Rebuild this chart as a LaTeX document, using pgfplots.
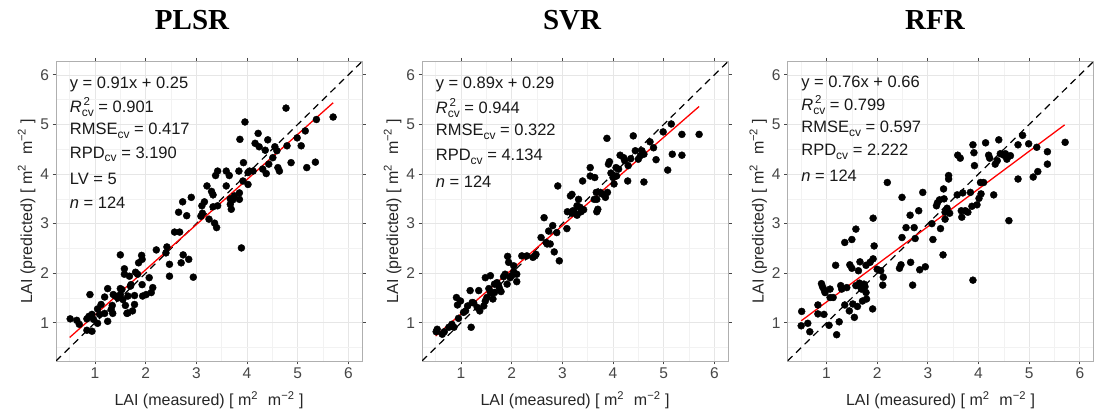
\documentclass[border=0pt]{standalone}
\usepackage{pgfplots}
\pgfplotsset{compat=1.18}
\usepackage{pgfplotstable}
\usepackage{fontspec}
\setmainfont{Liberation Sans}
\newfontfamily\titlefont{Liberation Serif}
\definecolor{gridc}{RGB}{230,230,230}
\definecolor{minorc}{RGB}{242,242,242}
\definecolor{borderc}{RGB}{175,175,175}
\definecolor{tickc}{RGB}{70,70,70}

\pgfplotstableread{
x y
0.51 1.08
0.64 1.05
0.69 0.97
0.84 1.08
0.84 0.85
0.94 0.83
0.90 1.57
0.94 1.17
1.05 1.28
1.05 0.99
0.97 1.07
1.19 1.52
1.19 1.19
1.25 1.69
1.25 1.03
1.12 1.37
1.35 1.19
1.36 1.57
1.34 1.35
1.40 1.54
1.50 2.37
1.50 1.69
1.50 1.57
1.55 1.47
1.58 2.09
1.58 1.98
1.60 1.35
1.63 1.19
1.65 1.54
1.68 1.94
1.71 1.77
1.74 1.24
1.78 1.37
1.78 1.55
1.80 2.02
1.86 2.21
1.92 2.36
1.93 1.77
1.94 1.54
1.93 2.28
2.01 1.57
2.07 1.91
2.11 1.61
2.14 1.71
2.21 2.47
2.42 2.53
2.47 2.18
2.47 1.94
2.57 2.83
2.67 2.83
2.65 3.23
2.73 3.44
2.74 2.37
2.70 2.21
2.81 3.16
2.85 2.28
2.90 3.53
2.94 1.92
3.09 3.15
3.11 3.36
3.16 3.44
3.21 3.76
3.25 3.09
3.30 3.65
3.33 3.34
3.33 3.58
3.36 3.01
3.38 3.97
3.40 2.92
3.42 4.06
3.42 3.36
3.59 4.06
3.59 3.76
3.65 3.97
3.67 3.50
3.67 3.39
3.69 3.29
3.75 3.56
3.84 4.06
3.85 3.62
3.86 4.70
3.89 2.51
3.92 3.86
3.93 4.23
3.96 5.05
4.02 3.79
4.05 4.06
4.12 4.06
4.16 4.62
4.22 4.82
4.24 4.55
4.31 4.10
4.36 4.48
4.38 4.01
4.41 4.69
4.43 4.20
4.51 4.33
4.55 4.55
4.59 4.47
4.61 4.13
4.64 4.06
4.77 5.33
4.79 4.57
4.87 4.23
4.99 4.73
5.07 4.57
5.15 4.87
5.18 4.13
5.35 4.24
5.37 5.10
5.70 5.15
1.45 1.50
1.70 1.74
3.12 3.21
3.72 3.48
1.65 1.20
1.09 1.17
1.32 1.27
0.88 1.13
1.84 1.98
2.40 2.41
4.02 4.03
1.53 1.67
3.85 3.49
}\plsr

\pgfplotstableread{
x y
0.51 0.82
0.53 0.87
0.63 0.77
0.67 0.82
0.82 0.97
0.91 1.51
0.93 1.36
0.95 1.09
1.05 1.21
1.13 1.34
1.18 1.65
1.20 0.91
1.25 1.40
1.32 1.31
1.35 1.65
1.37 1.24
1.45 1.34
1.48 1.91
1.51 1.51
1.55 1.69
1.58 1.95
1.61 1.61
1.63 1.48
1.66 1.78
1.71 1.81
1.76 1.69
1.79 1.63
1.84 1.93
1.87 1.98
1.91 1.78
1.92 2.34
1.94 2.22
1.97 1.91
2.04 2.03
2.10 1.98
2.10 1.83
2.20 2.35
2.42 2.32
2.46 2.35
2.58 2.72
2.64 3.12
2.68 2.62
2.73 2.85
2.76 2.59
2.81 2.96
2.84 2.43
2.91 3.76
2.94 2.25
3.09 2.90
3.10 3.24
3.16 3.56
3.19 3.59
3.21 3.26
3.29 3.17
3.32 3.49
3.37 3.24
3.40 3.86
3.42 3.28
3.55 4.13
3.55 3.96
3.64 3.93
3.67 3.63
3.68 3.49
3.68 3.24
3.70 3.29
3.75 3.63
3.85 3.53
3.88 4.72
3.89 3.63
3.91 4.20
3.93 4.25
3.96 4.02
4.02 3.80
4.06 4.13
4.11 4.10
4.14 4.38
4.21 4.33
4.23 4.27
4.29 3.86
4.35 4.31
4.40 4.77
4.44 4.47
4.50 4.30
4.57 4.47
4.61 4.40
4.61 3.84
4.73 4.65
4.85 4.29
4.99 4.85
5.08 4.08
5.15 5.01
5.17 4.40
5.36 4.80
5.36 4.38
5.70 4.80
1.58 1.61
1.74 1.75
2.00 1.95
2.04 2.15
1.48 1.44
1.09 1.24
0.86 0.91
2.70 2.59
3.19 3.21
3.24 3.22
3.29 3.36
3.78 3.60
4.00 3.93
4.30 4.17
4.54 4.37
4.80 4.53
2.48 2.38
1.22 1.41
0.99 1.44
3.63 3.49
4.07 3.96
1.66 1.61
0.76 0.91
2.30 2.35
3.35 3.33
2.89 2.82
}\svr

\pgfplotstableread{
x y
0.50 0.94
0.51 1.23
0.63 0.99
0.67 0.82
0.83 1.36
0.83 1.18
0.90 1.79
0.92 1.73
0.95 1.67
0.95 1.17
1.05 0.95
1.07 1.51
1.13 1.51
1.18 2.16
1.20 0.76
1.25 1.02
1.28 1.75
1.30 1.68
1.36 2.62
1.36 1.36
1.40 1.71
1.45 1.24
1.46 2.17
1.50 2.68
1.50 2.10
1.52 1.38
1.55 1.11
1.58 2.89
1.58 1.75
1.61 1.33
1.63 2.05
1.65 1.80
1.66 2.23
1.67 1.73
1.71 1.44
1.74 1.78
1.76 1.73
1.78 2.16
1.78 1.61
1.79 1.48
1.86 2.22
1.91 1.28
1.92 2.29
1.92 3.11
1.94 2.55
2.00 2.08
2.07 2.05
2.11 1.76
2.12 1.92
2.20 3.83
2.44 2.10
2.47 2.17
2.49 3.53
2.49 2.72
2.57 2.92
2.65 3.17
2.66 2.22
2.70 1.76
2.73 2.92
2.75 2.70
2.82 3.26
2.84 2.07
2.90 3.63
2.95 2.13
3.08 3.00
3.10 2.68
3.17 3.36
3.19 3.42
3.23 3.48
3.25 2.90
3.30 2.37
3.31 3.70
3.32 3.50
3.34 3.09
3.38 3.31
3.41 3.97
3.41 3.90
3.43 3.21
3.58 3.58
3.59 4.38
3.64 4.32
3.66 3.26
3.67 3.13
3.69 3.62
3.74 3.26
3.84 3.63
3.87 3.35
3.89 4.59
3.89 1.86
3.91 4.43
3.92 4.17
3.97 3.38
4.01 3.51
4.04 3.83
4.05 3.60
4.10 3.83
4.14 4.63
4.20 4.38
4.22 4.32
4.30 3.58
4.33 4.20
4.37 4.27
4.40 4.69
4.43 4.41
4.50 4.38
4.56 4.30
4.60 3.06
4.63 4.37
4.78 4.59
4.78 3.90
4.87 4.78
4.99 4.61
5.08 3.94
5.15 4.54
5.17 4.05
5.36 4.45
5.36 4.20
5.71 4.64
1.07 1.68
1.69 1.68
3.34 3.23
3.79 3.23
4.53 4.41
0.97 1.61
}\rfr

\pgfplotsset{lai/.style={
  scale only axis, width=306pt, height=299.5pt,
  xmin=0.23, xmax=6.27, ymin=0.23, ymax=6.27,
  xtick={1,...,6}, ytick={1,...,6},
  minor xtick={0.5,1.5,...,5.5}, minor ytick={0.5,1.5,...,5.5},
  grid=both,
  major grid style={draw=gridc, line width=0.7pt},
  minor grid style={draw=minorc, line width=0.4pt},
  axis line style={draw=borderc, line width=0.9pt},
  tick align=outside,
  major tick length=3.5pt, minor tick length=0pt,
  tick style={draw=tickc, line width=0.8pt},
  ticklabel style={font=\fontsize{15.5}{15.5}\selectfont, text=tickc},
  /pgf/number format/assume math mode=true,
  xlabel={LAI (measured) [ m\textsuperscript{2}\,\, m\textsuperscript{−2} ]},
  ylabel={LAI (predicted) [ m\textsuperscript{2}\,\, m\textsuperscript{−2} ]},
  label style={font=\fontsize{16}{16}\selectfont, text=black!85},
  xlabel style={at={(axis description cs:0.5,-0.13)}, anchor=center},
  ylabel style={at={(axis description cs:-0.096,0.5)}, anchor=center},
  clip=true,
}}
\tikzset{ann/.style={anchor=base west, inner sep=0pt, font=\fontsize{16.5}{16.5}\selectfont, text=black!90}}
\newcommand{\cv}{\raisebox{-0.22em}{\fontsize{12}{12}\selectfont cv}}
\newcommand{\Rcv}{{\itshape R}\rlap{\raisebox{0.45em}{\fontsize{11.5}{11.5}\selectfont\,2}}\cv}

\begin{document}
\begin{tikzpicture}[x=1pt,y=1pt]
\path[use as bounding box] (0,0) rectangle (1094,414);

% PLSR
\begin{axis}[lai, at={(56pt,53pt)}, anchor=south west]
\addplot[black, line width=1.2pt, dash pattern=on 7pt off 5pt] coordinates {(0.23,0.23) (6.27,6.27)};
\addplot[only marks, mark=*, mark size=3.5pt, black] table[x=x,y=y] {\plsr};
\addplot[red, line width=1.3pt] coordinates {(0.5,0.705) (5.7,5.437)};
\node[ann] at (axis cs:0.5,5.72) {y = 0.91x + 0.25};
\node[ann] at (axis cs:0.5,5.24) {\Rcv\ = 0.901};
\node[ann] at (axis cs:0.5,4.80) {RMSE\cv\ = 0.417};
\node[ann] at (axis cs:0.5,4.32) {RPD\cv\ = 3.190};
\node[ann] at (axis cs:0.5,3.79) {LV = 5};
\node[ann] at (axis cs:0.5,3.31) {{\itshape n} = 124};
\end{axis}

% SVR
\begin{axis}[lai, at={(422pt,53pt)}, anchor=south west]
\addplot[black, line width=1.2pt, dash pattern=on 7pt off 5pt] coordinates {(0.23,0.23) (6.27,6.27)};
\addplot[only marks, mark=*, mark size=3.5pt, black] table[x=x,y=y] {\svr};
\addplot[red, line width=1.3pt] coordinates {(0.5,0.735) (5.7,5.363)};
\node[ann] at (axis cs:0.5,5.73) {y = 0.89x + 0.29};
\node[ann] at (axis cs:0.5,5.22) {\Rcv\ = 0.944};
\node[ann] at (axis cs:0.5,4.77) {RMSE\cv\ = 0.322};
\node[ann] at (axis cs:0.5,4.27) {RPD\cv\ = 4.134};
\node[ann] at (axis cs:0.5,3.73) {{\itshape n} = 124};
\end{axis}

% RFR
\begin{axis}[lai, at={(787.5pt,53pt)}, anchor=south west]
\addplot[black, line width=1.2pt, dash pattern=on 7pt off 5pt] coordinates {(0.23,0.23) (6.27,6.27)};
\addplot[only marks, mark=*, mark size=3.5pt, black] table[x=x,y=y] {\rfr};
\addplot[red, line width=1.3pt] coordinates {(0.5,1.04) (5.7,4.992)};
\node[ann] at (axis cs:0.5,5.75) {y = 0.76x + 0.66};
\node[ann] at (axis cs:0.5,5.28) {\Rcv\ = 0.799};
\node[ann] at (axis cs:0.5,4.84) {RMSE\cv\ = 0.597};
\node[ann] at (axis cs:0.5,4.37) {RPD\cv\ = 2.222};
\node[ann] at (axis cs:0.5,3.85) {{\itshape n} = 124};
\end{axis}

\node[anchor=base, inner sep=0pt, font=\titlefont\bfseries\fontsize{29}{29}\selectfont] at (192,384) {PLSR};
\node[anchor=base, inner sep=0pt, font=\titlefont\bfseries\fontsize{29}{29}\selectfont] at (572,384) {SVR};
\node[anchor=base, inner sep=0pt, font=\titlefont\bfseries\fontsize{29}{29}\selectfont] at (935,384) {RFR};
\end{tikzpicture}
\end{document}
